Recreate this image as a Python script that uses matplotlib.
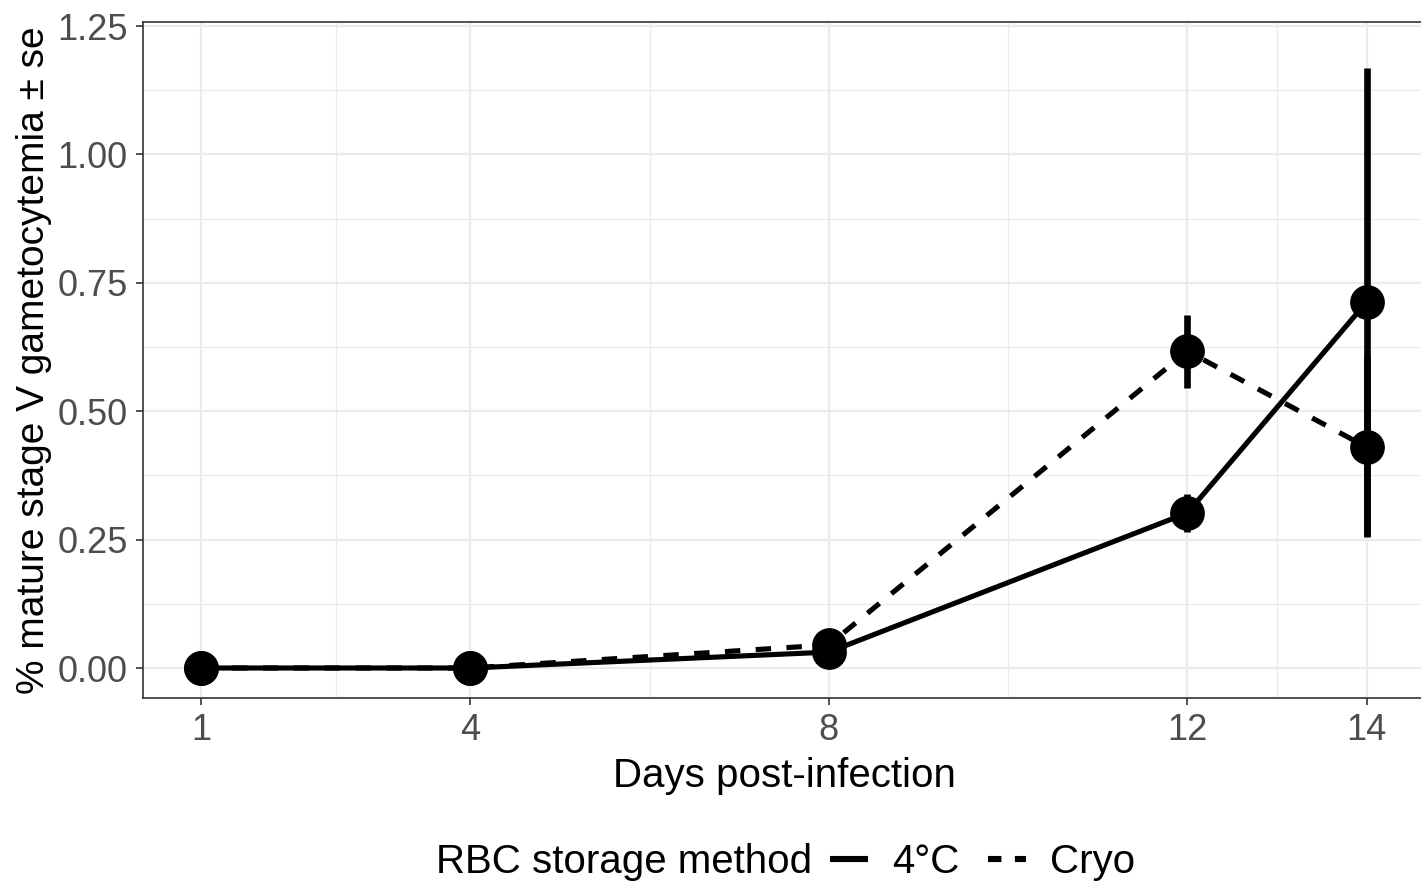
import matplotlib
matplotlib.use("Agg")
import matplotlib.pyplot as plt
from matplotlib.lines import Line2D
from matplotlib.ticker import FixedLocator

plt.rcParams['font.family'] = ['Liberation Sans', 'DejaVu Sans']

# Sampling days and mean mature stage V gametocytemia (%) with standard errors
days = [1, 4, 8, 12, 14]
cold_mean = [0.0, 0.0, 0.031, 0.302, 0.713]
cold_se = [0.0, 0.0, 0.008, 0.037, 0.455]
cryo_mean = [0.0, 0.0, 0.045, 0.617, 0.430]
cryo_se = [0.0, 0.0, 0.010, 0.071, 0.175]

series_labels = ["4°C", "Cryo"]
y_ticks = [0.00, 0.25, 0.50, 0.75, 1.00, 1.25]
y_tick_labels = ["0.00", "0.25", "0.50", "0.75", "1.00", "1.25"]

W, H = 1421, 883
fig = plt.figure(figsize=(W / 100, H / 100), dpi=100)
ax = fig.add_axes([143 / W, 1 - 698 / H, (1425 - 143) / W, (698 - 22) / H])

LW = 3.7
for mean, se, dash in [(cold_mean, cold_se, None), (cryo_mean, cryo_se, (3.0, 3.0))]:
    line, = ax.plot(days, mean, color='black', lw=LW, solid_capstyle='butt',
                    zorder=3)
    if dash:
        line.set_dashes(dash)
    ax.errorbar(days, mean, yerr=se, fmt='none', ecolor='black', elinewidth=4.8,
                capsize=0, zorder=4)
    ax.plot(days, mean, 'o', color='black', ms=24, zorder=5)

ax.set_xlim(0.35, 14.65)
ax.set_ylim(-0.0584, 1.258)
ax.set_xticks(days)
ax.set_xticklabels([str(d) for d in days])
ax.set_yticks(y_ticks)
ax.set_yticklabels(y_tick_labels)
ax.xaxis.set_minor_locator(FixedLocator([2.5, 6, 10, 13]))
ax.yaxis.set_minor_locator(FixedLocator([0.125, 0.375, 0.625, 0.875, 1.125]))

ax.grid(True, which='major', color='#EBEBEB', lw=1.6, zorder=0)
ax.grid(True, which='minor', color='#EBEBEB', lw=0.9, zorder=0)
ax.set_axisbelow(True)
for s in ax.spines.values():
    s.set_color('#333333')
    s.set_linewidth(1.2)
ax.tick_params(which='major', length=5, width=1.2, color='#333333',
               labelsize=26, labelcolor='#4D4D4D', pad=6)
ax.tick_params(which='minor', length=0)

ax.set_xlabel("Days post-infection", fontsize=29, color='black', labelpad=6)
ax.set_ylabel("% mature stage V gametocytemia ± se", fontsize=28, color='black',
              labelpad=4)

# Legend along the bottom: title followed by the two line keys
handles = [Line2D([], [], color='black', lw=4.4, solid_capstyle='butt'),
           Line2D([], [], color='black', lw=4.4, dashes=(2.2, 2.2))]
leg = fig.legend(handles, series_labels, ncol=2, loc='center left',
                 bbox_to_anchor=(830 / W, 1 - 862 / H), frameon=False,
                 fontsize=29, handlelength=0.95, handletextpad=0.6,
                 columnspacing=0.7, borderpad=0, borderaxespad=0)
fig.text(812 / W, 1 - 862 / H, "RBC storage method", fontsize=29,
         ha='right', va='center')

fig.savefig("out.png", dpi=100)
